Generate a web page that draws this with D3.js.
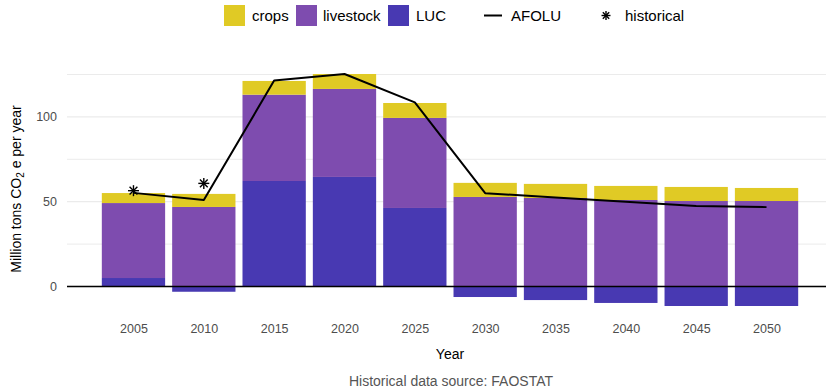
<!DOCTYPE html>
<html>
<head>
<meta charset="utf-8">
<script src="https://cdn.jsdelivr.net/npm/d3@7"></script>
<style>
  html, body { margin: 0; padding: 0; background: #fff; }
  svg { display: block; font-family: "Liberation Sans", Arial, Helvetica, sans-serif; }
</style>
</head>
<body>
<svg id="chart" width="826" height="391"></svg>
<script>
// Emissions by source, million tons CO2e per year
const years = [2005, 2010, 2015, 2020, 2025, 2030, 2035, 2040, 2045, 2050];
const crops = [5.9, 7.7, 8.1, 8.8, 8.8, 8.3, 8.3, 8.3, 8.3, 7.7];
const livestock = [44.2, 46.9, 50.9, 51.9, 53.1, 52.8, 52.2, 51.0, 50.4, 50.4];
const luc = [5.0, -3.1, 62.2, 64.6, 46.3, -6.2, -8.0, -9.7, -11.5, -11.5];
const afolu = [55.2, 51.0, 121.4, 125.3, 108.6, 55.0, 52.5, 50.0, 47.4, 46.8];
const histYears = [2005, 2010];
const histValues = [56.5, 60.8];
const yTicks = [0, 50, 100];
const yMinor = [25, 75, 125];

const colors = { LUC: "#4839B2", livestock: "#7E4CAF", crops: "#E0CA25" };
const keys = ["LUC", "livestock", "crops"];

const rows = years.map((y, i) => ({ year: y, LUC: luc[i], livestock: livestock[i], crops: crops[i] }));

const svg = d3.select("#chart");
const panel = { left: 67, right: 833 };
const barWidthYears = 4.5;
const xPad = (years[years.length - 1] - years[0] + barWidthYears) * 0.05;
const x = d3.scaleLinear()
  .domain([years[0] - barWidthYears / 2 - xPad, years[years.length - 1] + barWidthYears / 2 + xPad])
  .range([panel.left, panel.right]);
const y = d3.scaleLinear().domain([-14, 140]).range([310.24, 49.06]);

// gridlines
const grid = svg.append("g");
grid.selectAll("line.minor").data(yMinor).join("line")
  .attr("x1", panel.left).attr("x2", panel.right)
  .attr("y1", d => y(d)).attr("y2", d => y(d))
  .attr("stroke", "#ebebeb").attr("stroke-width", 1);
grid.selectAll("line.major").data(yTicks).join("line")
  .attr("x1", panel.left).attr("x2", panel.right)
  .attr("y1", d => y(d)).attr("y2", d => y(d))
  .attr("stroke", "#ebebeb").attr("stroke-width", 1.3);

// stacked bars
const series = d3.stack().keys(keys).offset(d3.stackOffsetDiverging)(rows);
const bw = x(years[0] + barWidthYears) - x(years[0]);
svg.append("g").selectAll("g").data(series).join("g")
  .attr("fill", s => colors[s.key])
  .selectAll("rect").data(s => s).join("rect")
  .attr("x", d => x(d.data.year) - bw / 2)
  .attr("width", bw)
  .attr("y", d => y(Math.max(d[0], d[1])))
  .attr("height", d => Math.abs(y(d[0]) - y(d[1])));

// zero line
svg.append("line")
  .attr("x1", panel.left).attr("x2", panel.right)
  .attr("y1", y(0)).attr("y2", y(0))
  .attr("stroke", "#000").attr("stroke-width", 1.6);

// AFOLU net line
const line = d3.line().x((d, i) => x(years[i])).y(d => y(d));
svg.append("path").datum(afolu)
  .attr("d", line).attr("fill", "none")
  .attr("stroke", "#000").attr("stroke-width", 2).attr("stroke-linejoin", "round");

// historical asterisks
function asterisk(g, cx, cy, r) {
  const a = r * Math.SQRT1_2;
  const segs = [[-r, 0, r, 0], [0, -r, 0, r], [-a, -a, a, a], [-a, a, a, -a]];
  segs.forEach(s => g.append("line")
    .attr("x1", cx + s[0]).attr("y1", cy + s[1]).attr("x2", cx + s[2]).attr("y2", cy + s[3])
    .attr("stroke", "#000").attr("stroke-width", 1.4));
}
const hist = svg.append("g");
histYears.forEach((yr, i) => asterisk(hist, x(yr), y(histValues[i]), 5.5));

// axes
const xAxis = svg.append("g").attr("transform", `translate(0,${y(0)})`);
const yAxisG = svg.append("g").attr("transform", `translate(${panel.left},0)`);
const yAxis = d3.axisLeft(y).tickValues(yTicks).tickSize(0).tickPadding(10);
yAxisG.call(yAxis);
yAxisG.select(".domain").remove();
yAxisG.selectAll("text").attr("fill", "#4d4d4d").attr("font-size", "12.5px")
  .attr("font-family", "'Liberation Sans', Arial, sans-serif");

const xAxisG = svg.append("g").attr("transform", "translate(0,321)");
xAxisG.call(d3.axisBottom(x).tickValues(years).tickFormat(d3.format("d")).tickSize(0).tickPadding(3));
xAxisG.select(".domain").remove();
xAxisG.selectAll("text").attr("fill", "#4d4d4d").attr("font-size", "12.5px")
  .attr("font-family", "'Liberation Sans', Arial, sans-serif");

// axis titles
svg.append("text").attr("x", 450).attr("y", 359).attr("text-anchor", "middle")
  .attr("font-size", "14px").attr("fill", "#000").text("Year");

const yt = svg.append("text")
  .attr("transform", "translate(21,189) rotate(-90)")
  .attr("text-anchor", "middle").attr("font-size", "14px").attr("fill", "#000");
yt.append("tspan").text("Million tons CO");
yt.append("tspan").attr("font-size", "10px").attr("dy", 3).text("2");
yt.append("tspan").attr("dy", -3).text(" e per year");

// caption
svg.append("text").attr("x", 451).attr("y", 386).attr("text-anchor", "middle")
  .attr("font-size", "14px").attr("fill", "#555").text("Historical data source: FAOSTAT");

// legend
const legend = svg.append("g").attr("font-size", "15px").attr("fill", "#000");
const legendItems = [
  { key: "crops", label: "crops", sx: 224, tx: 252 },
  { key: "livestock", label: "livestock", sx: 296, tx: 323 },
  { key: "LUC", label: "LUC", sx: 388, tx: 416 }
];
legendItems.forEach(it => {
  legend.append("rect").attr("x", it.sx).attr("y", 5).attr("width", 21).attr("height", 21)
    .attr("fill", colors[it.key]);
  legend.append("text").attr("x", it.tx).attr("y", 21).text(it.label);
});
legend.append("line").attr("x1", 484).attr("x2", 502).attr("y1", 15.5).attr("y2", 15.5)
  .attr("stroke", "#000").attr("stroke-width", 2);
legend.append("text").attr("x", 511).attr("y", 21).text("AFOLU");
asterisk(legend, 606, 15.5, 4.5);
legend.append("text").attr("x", 625).attr("y", 21).text("historical");
</script>
</body>
</html>
